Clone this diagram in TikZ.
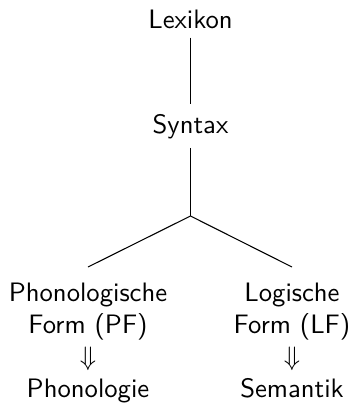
\documentclass[tikz,border=0pt]{standalone}
\usepackage{tikz}

\begin{document}
\begin{tikzpicture}[x=0.375pt,y=-0.375pt,font=\sffamily]
    \useasboundingbox (0,0) rectangle (351,408);

    \node[anchor=base] (lexikon) at (190.5,28) {Lexikon};
    \node[anchor=base] (syntax) at (190.5,133) {Syntax};
    \coordinate (branch) at (190.5,216);
    \coordinate (pfend) at (88,267);
    \coordinate (lfend) at (292,267);

    \node[anchor=north, align=center] (pf) at (88,274) {Phonologische\\Form (PF)\\$\Downarrow$\\Phonologie};
    \node[anchor=north, align=center] (lf) at (292,274) {Logische\\Form (LF)\\$\Downarrow$\\Semantik};

    \draw (lexikon) -- (syntax);
    \draw (syntax) -- (branch);
    \draw (branch) -- (pfend);
    \draw (branch) -- (lfend);

\end{tikzpicture}
\end{document}
